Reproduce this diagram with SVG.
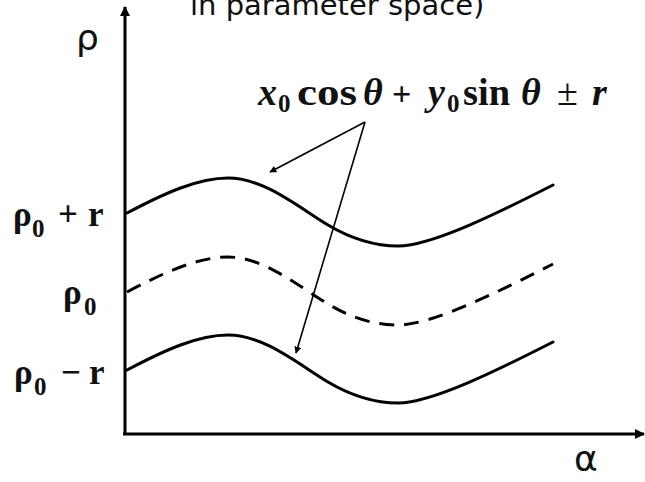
<svg xmlns="http://www.w3.org/2000/svg" width="645" height="482" viewBox="0 0 645 482">
<style>
.ax{stroke:#000;stroke-width:3;fill:none}
.cv{stroke:#000;stroke-width:3;fill:none;stroke-linecap:round}
.dash{stroke-dasharray:15 10;stroke-linecap:butt}
.ar{stroke:#000;stroke-width:1.6;fill:none}
.lbl{font-family:"Liberation Serif",serif;font-weight:bold;font-size:35px;fill:#111}
.fm{font-family:"Liberation Serif",serif;font-weight:bold;font-size:38px;fill:#111}
.sub{font-size:25px}
.it{font-style:italic}
.sans{font-family:"DejaVu Sans",sans-serif;fill:#111}
</style>
<defs>
<marker id="ah" viewBox="0 0 10 10" refX="9" refY="5" markerWidth="7" markerHeight="7" orient="auto" markerUnits="userSpaceOnUse">
<path d="M0,0 L10,5 L0,10 z" fill="#000"/>
</marker>
<marker id="ah2" viewBox="0 0 10 10" refX="9" refY="5" markerWidth="10" markerHeight="10" orient="auto" markerUnits="userSpaceOnUse">
<path d="M0,0 L10,5 L0,10 z" fill="#000"/>
</marker>
<path id="wave" d="M127,213 C165,193 198,178 228,178 C264,178 298,207 328,225 C355,241 377,246 398,246 C432,246 500,212 553,185"/>
</defs>
<text class="sans" x="190" y="15" font-size="29">in parameter space)</text>
<g id="axes">
<line class="ax" x1="125" y1="434" x2="125" y2="7" marker-end="url(#ah2)"/>
<line class="ax" x1="123" y1="434" x2="644" y2="434" marker-end="url(#ah2)"/>
<text class="sans" x="76" y="50" font-size="36">ρ</text>
<text class="sans" x="574" y="471" font-size="36">α</text>
</g>
<g id="curve-top"><use href="#wave" class="cv"/></g>
<g id="curve-mid"><use href="#wave" class="cv dash" transform="translate(0,79)"/></g>
<g id="curve-bottom"><use href="#wave" class="cv" transform="translate(0,157)"/></g>
<g id="label-top"><text class="lbl" y="226"><tspan x="13">ρ</tspan><tspan class="sub" x="32" y="237">0</tspan><tspan x="58" y="226">+</tspan><tspan x="88">r</tspan></text></g>
<g id="label-mid"><text class="lbl" y="304"><tspan x="63">ρ</tspan><tspan class="sub" x="84" y="315">0</tspan></text></g>
<g id="label-bottom"><text class="lbl" y="384"><tspan x="14">ρ</tspan><tspan class="sub" x="34" y="395">0</tspan><tspan x="61" y="384">−</tspan><tspan x="89">r</tspan></text></g>
<g id="formula"><text class="fm" y="105"><tspan class="it" x="258">x</tspan><tspan class="sub" x="278" y="112">0</tspan><tspan x="297" y="105" textLength="60" lengthAdjust="spacingAndGlyphs">cos</tspan><tspan class="it" x="363">θ</tspan><tspan x="392" font-size="34">+</tspan><tspan class="it" x="428">y</tspan><tspan class="sub" x="447" y="112">0</tspan><tspan x="463" y="105" textLength="47" lengthAdjust="spacingAndGlyphs">sin</tspan><tspan class="it" x="521">θ</tspan><tspan x="557" font-weight="normal">±</tspan><tspan class="it" x="592">r</tspan></text></g>
<g id="connectors">
<line class="ar" x1="365" y1="122" x2="270" y2="172" marker-end="url(#ah)"/>
<line class="ar" x1="365" y1="122" x2="296" y2="353" marker-end="url(#ah)"/>
</g>
</svg>
